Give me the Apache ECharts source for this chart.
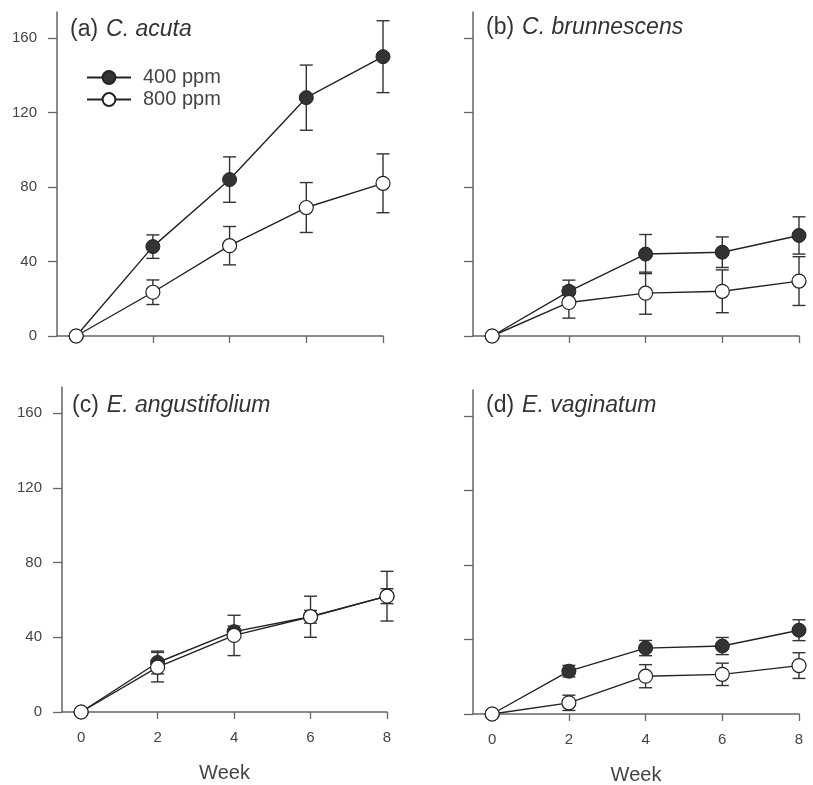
<!DOCTYPE html>
<html>
<head>
<meta charset="utf-8">
<script src="https://cdn.jsdelivr.net/npm/echarts@6/dist/echarts.min.js"></script>
<style>
  html, body { margin: 0; padding: 0; background: #fff; }
  #chart { width: 813px; height: 785px; }
</style>
</head>
<body>
<div id="chart"></div>
<script>
var weeks = [0, 2, 4, 6, 8];
var yTicks = [0, 40, 80, 120, 160];
var seriesNames = ['400 ppm', '800 ppm'];

// (a) C. acuta
var aMean400 = [0, 48, 84, 128, 150];
var aErr400 = [0, 6.3, 12.2, 17.5, 19.3];
var aMean800 = [0, 23.5, 48.5, 69, 82];
var aErr800 = [0, 6.6, 10.3, 13.4, 15.8];
// (b) C. brunnescens
var bMean400 = [0, 24, 44, 45, 54];
var bErr400 = [0, 6, 10.5, 8.2, 10];
var bMean800 = [0, 18, 23, 24, 29.5];
var bErr800 = [0, 8.4, 11.3, 11.5, 13.1];
// (c) E. angustifolium
var cMean400 = [0, 26.5, 43, 51, 62];
var cErr400 = [0, 6.1, 3, 3.4, 4];
var cMean800 = [0, 24, 41, 51, 62];
var cErr800 = [0, 7.9, 10.8, 11, 13.3];
// (d) E. vaginatum
var dMean400 = [0, 23, 35.4, 36.5, 45];
var dErr400 = [0, 3.1, 4.1, 4.6, 5.6];
var dMean800 = [0, 6, 20.3, 21.3, 26];
var dErr800 = [0, 4.1, 6.2, 6, 6.9];

var panels = [
    { tag: '(a)', name: 'C. acuta', m400: aMean400, e400: aErr400, m800: aMean800, e800: aErr800 },
    { tag: '(b)', name: 'C. brunnescens', m400: bMean400, e400: bErr400, m800: bMean800, e800: bErr800 },
    { tag: '(c)', name: 'E. angustifolium', m400: cMean400, e400: cErr400, m800: cMean800, e800: cErr800 },
    { tag: '(d)', name: 'E. vaginatum', m400: dMean400, e400: dErr400, m800: dMean800, e800: dErr800 }
];

var grids = [
    { left: 57, top: 12, width: 326, height: 324 },
    { left: 473, top: 12, width: 326, height: 324 },
    { left: 62, top: 387, width: 325, height: 325 },
    { left: 473, top: 390, width: 326, height: 324 }
];
// title anchor (left x, centre y) per panel
var titlePos = [[70, 30], [486, 28], [72, 406], [486, 406]];

var axisColor = '#666';
var textColor = '#444';
var lineColor = '#222';
var font = 'Liberation Sans, Arial, sans-serif';

function errData(mean, err) {
    var out = [];
    for (var i = 0; i < weeks.length; i++) {
        if (err[i] > 0) out.push([weeks[i], mean[i] - err[i], mean[i] + err[i]]);
    }
    return out;
}

function renderErr(params, api) {
    var x = api.value(0);
    var lo = api.coord([x, api.value(1)]);
    var hi = api.coord([x, api.value(2)]);
    var w = 6.5;
    var st = { stroke: '#333', lineWidth: 1.4 };
    return {
        type: 'group',
        children: [
            { type: 'line', shape: { x1: lo[0], y1: lo[1], x2: hi[0], y2: hi[1] }, style: st },
            { type: 'line', shape: { x1: lo[0] - w, y1: lo[1], x2: lo[0] + w, y2: lo[1] }, style: st },
            { type: 'line', shape: { x1: hi[0] - w, y1: hi[1], x2: hi[0] + w, y2: hi[1] }, style: st }
        ]
    };
}

function pairs(mean) {
    return weeks.map(function (w, i) { return [w, mean[i]]; });
}

var option = {
    animation: false,
    backgroundColor: '#fff',
    textStyle: { fontFamily: font },
    grid: [],
    xAxis: [],
    yAxis: [],
    series: [],
    title: [],
    legend: {
        data: seriesNames,
        orient: 'vertical',
        left: 86,
        top: 67,
        padding: 0,
        itemWidth: 44,
        itemHeight: 16,
        itemGap: 1,
        textStyle: { fontSize: 20, lineHeight: 21, color: textColor, fontFamily: font, padding: [0, 0, 0, 7] },
        selectedMode: false
    }
};

panels.forEach(function (p, k) {
    var g = grids[k];
    var bottomRow = k >= 2;
    var leftCol = k % 2 === 0;
    option.grid.push({ left: g.left, top: g.top, width: g.width, height: g.height, containLabel: false, outerBoundsMode: 'none' });
    option.xAxis.push({
        type: 'value', gridIndex: k, min: -0.5, max: 8,
        name: bottomRow ? 'Week' : '',
        nameLocation: 'middle', nameGap: 51,
        nameTextStyle: { fontSize: 20, color: textColor, fontFamily: font },
        axisLine: { show: true, onZero: false, lineStyle: { color: axisColor, width: 1.5 } },
        axisTick: { show: true, inside: false, length: 7, customValues: [2, 4, 6, 8], lineStyle: { color: axisColor, width: 1.3 } },
        axisLabel: { show: bottomRow, customValues: weeks, margin: 18, fontSize: 15, color: textColor },
        splitLine: { show: false }
    });
    option.yAxis.push({
        type: 'value', gridIndex: k, min: 0, max: 174,
        axisLine: { show: true, onZero: false, lineStyle: { color: axisColor, width: 1.5 } },
        axisTick: { show: true, inside: false, length: 9, customValues: yTicks, lineStyle: { color: axisColor, width: 1.3 } },
        axisLabel: { show: leftCol, customValues: yTicks, margin: 20, fontSize: 15, color: textColor },
        splitLine: { show: false }
    });
    option.title.push({
        text: '{n|' + p.tag + '} {i|' + p.name + '}',
        left: titlePos[k][0],
        top: titlePos[k][1] - 13,
        padding: 0,
        textStyle: {
            rich: {
                n: { fontSize: 23, lineHeight: 26, color: '#333', fontWeight: 'normal', fontFamily: font },
                i: { fontSize: 23, lineHeight: 26, color: '#333', fontWeight: 'normal', fontStyle: 'italic', fontFamily: font, padding: [0, 0, 0, 3] }
            }
        }
    });
    option.series.push(
        { type: 'custom', xAxisIndex: k, yAxisIndex: k, renderItem: renderErr, data: errData(p.m400, p.e400), z: 1, silent: true },
        { type: 'custom', xAxisIndex: k, yAxisIndex: k, renderItem: renderErr, data: errData(p.m800, p.e800), z: 1, silent: true },
        {
            name: seriesNames[0], type: 'line', xAxisIndex: k, yAxisIndex: k, data: pairs(p.m400),
            symbol: 'circle', symbolSize: 14, z: 3, clip: false,
            lineStyle: { color: lineColor, width: 1.4 },
            itemStyle: { color: '#333', borderColor: lineColor, borderWidth: 1 }
        },
        {
            name: seriesNames[1], type: 'line', xAxisIndex: k, yAxisIndex: k, data: pairs(p.m800),
            symbol: 'circle', symbolSize: 14, z: 4, clip: false,
            lineStyle: { color: lineColor, width: 1.4 },
            itemStyle: { color: '#fff', borderColor: lineColor, borderWidth: 1.2 }
        }
    );
});

var chart = echarts.init(document.getElementById('chart'));
chart.setOption(option);
</script>
</body>
</html>
